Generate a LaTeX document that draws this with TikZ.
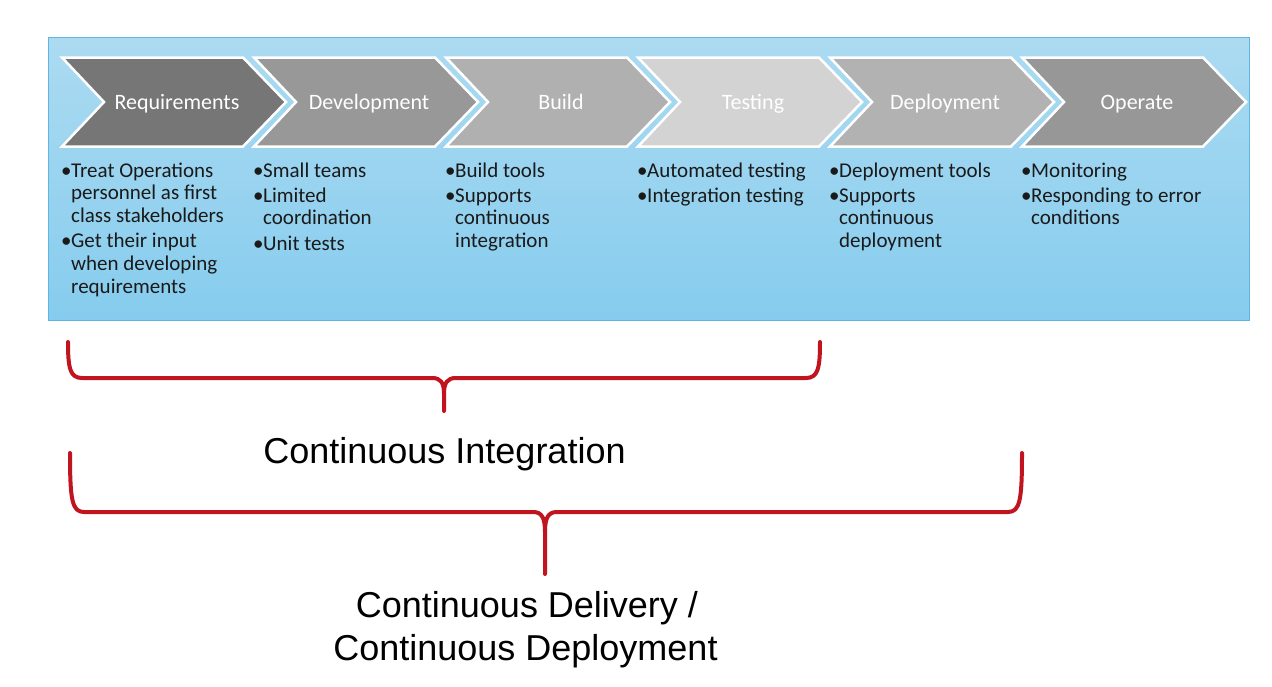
\documentclass[tikz,border=0pt]{standalone}
\usepackage{fontspec}
\setmainfont{Carlito}
\newfontfamily\arialf{Liberation Sans}
\definecolor{bgtop}{HTML}{ACDBF1}
\definecolor{bgbot}{HTML}{86CCEE}
\definecolor{bgborder}{HTML}{5FB6E2}
\definecolor{chA}{HTML}{767676}
\definecolor{chB}{HTML}{989898}
\definecolor{chC}{HTML}{B0B0B0}
\definecolor{chD}{HTML}{D3D3D3}
\definecolor{chE}{HTML}{B2B2B2}
\definecolor{chF}{HTML}{979797}
\definecolor{bracered}{HTML}{C0141F}
\definecolor{txt}{HTML}{1A1A1A}
\tikzset{
  chev/.style={draw=white, line width=2.5pt, line join=miter},
  chevlabel/.style={text=white, anchor=base, inner sep=0pt, font=\fontsize{22}{26}\selectfont},
  bullets/.style={anchor=base west, inner sep=0pt, text=txt, font=\fontsize{21}{22.7}\selectfont},
  brace/.style={draw=bracered, line width=4pt, line cap=round, line join=round},
  biglabel/.style={anchor=base, inner sep=0pt, text=black, font=\arialf\fontsize{36}{43}\selectfont, align=center}
}
\newcommand{\bl}{\makebox[10pt][l]{•}}
\begin{document}
\begin{tikzpicture}[x=1pt,y=-1pt]
\useasboundingbox (0,0) rectangle (1272,686);
\fill[white] (0,0) rectangle (1272,686);
\shade[top color=bgtop,bottom color=bgbot] (48,37) rectangle (1249,320);
\draw[bgborder, line width=1pt] (48,37) rectangle (1249,320);
\foreach \i/\c/\t in {0/chA/Requirements,1/chB/Development,2/chC/Build,3/chD/Testing,4/chE/Deployment,5/chF/Operate}{
  \pgfmathsetmacro\L{62+192*\i}
  \draw[chev, fill=\c] (\L,57.5) -- ++(181,0) -- ++(43,44.5) -- ++(-43,44.5) -- ++(-181,0) -- ++(42,-44.5) -- cycle;
  \node[chevlabel] (h\i) at (\L+115,109) {\t};
}
\node[bullets] (c0) at (61,177) {\begin{tabular}[t]{@{}l@{}l@{}}\bl&Treat Operations\\ &personnel as first\\ &class stakeholders\\[2.5pt] \bl&Get their input\\ &when developing\\ &requirements\end{tabular}};
\node[bullets] (c1) at (253,177) {\begin{tabular}[t]{@{}l@{}l@{}}\bl&Small teams\\[2.5pt] \bl&Limited\\ &coordination\\[2.5pt] \bl&Unit tests\end{tabular}};
\node[bullets] (c2) at (445,177) {\begin{tabular}[t]{@{}l@{}l@{}}\bl&Build tools\\[2.5pt] \bl&Supports\\ &continuous\\ &integration\end{tabular}};
\node[bullets] (c3) at (637,177) {\begin{tabular}[t]{@{}l@{}l@{}}\bl&Automated testing\\[2.5pt] \bl&Integration testing\end{tabular}};
\node[bullets] (c4) at (829,177) {\begin{tabular}[t]{@{}l@{}l@{}}\bl&Deployment tools\\[2.5pt] \bl&Supports\\ &continuous\\ &deployment\end{tabular}};
\node[bullets] (c5) at (1021,177) {\begin{tabular}[t]{@{}l@{}l@{}}\bl&Monitoring\\[2.5pt] \bl&Responding to error\\ &conditions\end{tabular}};
% brace 1
\draw[brace] (68,342) .. controls (68,368) and (70,378) .. (82,378) -- (432,378) .. controls (441,378) and (444,383) .. (444,394) -- (444,411);
\draw[brace] (444,394) .. controls (444,383) and (447,378) .. (456,378) -- (806,378) .. controls (818,378) and (820,368) .. (820,342);
% brace 2
\draw[brace] (70,453) .. controls (70,500) and (72,512) .. (84,512) -- (533,512) .. controls (542,512) and (545,518) .. (545,532) -- (545,574);
\draw[brace] (545,532) .. controls (545,518) and (548,512) .. (557,512) -- (1008,512) .. controls (1020,512) and (1022,500) .. (1022,453);
\node[biglabel] (ci) at (444.5,463) {Continuous Integration};
\node[biglabel] (cd1) at (527,617) {Continuous Delivery /};
\node[biglabel] (cd2) at (525.5,660) {Continuous Deployment};
\end{tikzpicture}
\end{document}
